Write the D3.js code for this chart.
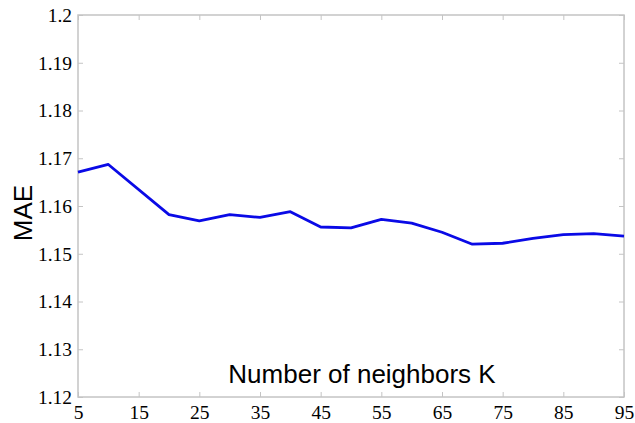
<!DOCTYPE html>
<html>
<head>
<meta charset="utf-8">
<script src="https://cdn.jsdelivr.net/npm/d3@7"></script>
<style>
  html, body { margin: 0; padding: 0; background: #fff; }
  svg { display: block; }
</style>
</head>
<body>
<svg id="chart" width="635" height="423"></svg>
<script>
// Neighbourhood size K and the resulting mean absolute error
const neighbors = [5, 10, 20, 25, 30, 35, 40, 45, 50, 55, 60, 65, 70, 75, 80, 85, 90, 95];
const maeValues = [1.1671, 1.1687, 1.1582, 1.1569, 1.1582, 1.1576, 1.1588, 1.1556, 1.1554,
                   1.1572, 1.1564, 1.1545, 1.1520, 1.1522, 1.1532, 1.1540, 1.1542, 1.1537];
const xTicks = [5, 15, 25, 35, 45, 55, 65, 75, 85, 95];
const yTicks = [1.12, 1.13, 1.14, 1.15, 1.16, 1.17, 1.18, 1.19, 1.2];

const svg = d3.select("#chart");
const plotLeft = 78, plotRight = 624, plotTop = 15, plotBottom = 397;

const x = d3.scaleLinear().domain([5, 95]).range([plotLeft, plotRight]);
const y = d3.scaleLinear().domain([1.12, 1.2]).range([plotBottom, plotTop]);

const axisColor = "#c4c4c4";
const tickFont = "Liberation Serif, Tinos, Times New Roman, Times, DejaVu Serif, serif";

// Frame with inward ticks on all four sides
function styleAxis(g) {
  g.attr("font-family", tickFont).attr("font-size", 19.5);
  g.select(".domain").remove();
  g.selectAll(".tick line").attr("stroke", axisColor).attr("stroke-width", 1);
  g.selectAll(".tick text").attr("fill", "#000");
}

svg.append("g")
  .attr("transform", `translate(0,${plotBottom})`)
  .call(d3.axisBottom(x).tickValues(xTicks).tickSizeInner(-5).tickSizeOuter(0).tickPadding(8))
  .call(styleAxis);

svg.append("g")
  .attr("transform", `translate(0,${plotTop})`)
  .call(d3.axisTop(x).tickValues(xTicks).tickSizeInner(-5).tickSizeOuter(0).tickFormat(""))
  .call(styleAxis);

svg.append("g")
  .attr("transform", `translate(${plotLeft},0)`)
  .call(d3.axisLeft(y).tickValues(yTicks).tickSizeInner(-5).tickSizeOuter(0).tickPadding(6)
        .tickFormat(d => String(+d.toFixed(2))))
  .call(styleAxis);

svg.append("g")
  .attr("transform", `translate(${plotRight},0)`)
  .call(d3.axisRight(y).tickValues(yTicks).tickSizeInner(-5).tickSizeOuter(0).tickFormat(""))
  .call(styleAxis);

svg.append("rect")
  .attr("x", plotLeft).attr("y", plotTop)
  .attr("width", plotRight - plotLeft).attr("height", plotBottom - plotTop)
  .attr("fill", "none").attr("stroke", axisColor).attr("stroke-width", 1.5);

// MAE curve
const line = d3.line()
  .x((d, i) => x(neighbors[i]))
  .y(d => y(d));

svg.append("path")
  .datum(maeValues)
  .attr("d", line)
  .attr("fill", "none")
  .attr("stroke", "#0a0ae6")
  .attr("stroke-width", 2.8)
  .attr("stroke-linejoin", "round");

// Axis titles
const labelFont = "Liberation Sans, Arial, sans-serif";
svg.append("text")
  .attr("x", 362).attr("y", 383)
  .attr("text-anchor", "middle")
  .attr("font-family", labelFont)
  .attr("font-size", 26)
  .attr("fill", "#000")
  .text("Number of neighbors K");

svg.append("text")
  .attr("transform", "translate(32,213) rotate(-90)")
  .attr("text-anchor", "middle")
  .attr("font-family", labelFont)
  .attr("font-size", 26)
  .attr("fill", "#000")
  .text("MAE");
</script>
</body>
</html>
